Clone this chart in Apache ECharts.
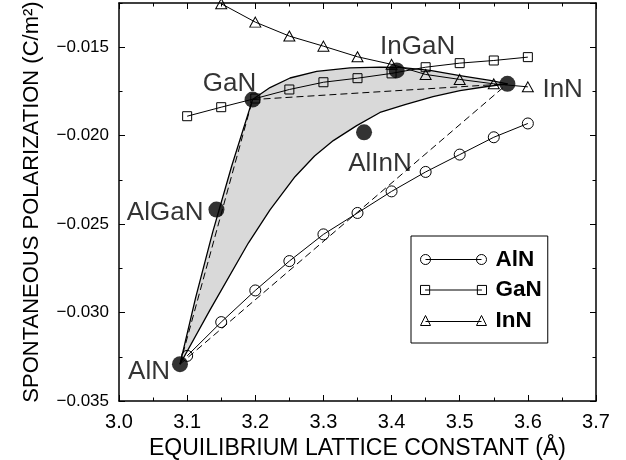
<!DOCTYPE html>
<html>
<head>
<meta charset="utf-8">
<script src="https://cdn.jsdelivr.net/npm/echarts@6/dist/echarts.min.js"></script>
<style>html,body{margin:0;padding:0;background:#fff}#c{width:626px;height:460px}</style>
</head>
<body>
<div id="c"></div>
<script>
// ---- data ----
const latticeGrid = [3.10, 3.15, 3.20, 3.25, 3.30, 3.35, 3.40, 3.45, 3.50, 3.55, 3.60];
const pspAlN = [-0.03245, -0.03054, -0.02875, -0.02709, -0.02558, -0.02437, -0.02315, -0.02205, -0.02107, -0.02009, -0.01931];
const pspGaN = [-0.0189, -0.01839, -0.0179, -0.01739, -0.01698, -0.01675, -0.01648, -0.01613, -0.0159, -0.01575, -0.01556];
const pspInN = [null, -0.01254, -0.01358, -0.01437, -0.01494, -0.01554, -0.01597, -0.01654, -0.01682, -0.01707, -0.01724];

const dotNames = ['AlN', 'AlGaN', 'GaN', 'InGaN', 'InN', 'AlInN'];
const dotX = [3.0895, 3.143, 3.196, 3.4075, 3.570, 3.3596];
const dotY = [-0.03292, -0.02418, -0.01796, -0.01631, -0.01707, -0.01981];

// bowed alloy curves
const algaX = [3.0895, 3.1123, 3.1376, 3.1655, 3.196];
const algaY = [-0.03292, -0.02918, -0.02544, -0.0217, -0.01796];
const ingaX = [3.196, 3.2216, 3.2510, 3.2901, 3.3390, 3.3830, 3.4124, 3.4564, 3.5004, 3.5445, 3.570];
const ingaY = [-0.01796, -0.01728, -0.01674, -0.01637, -0.01617, -0.01612, -0.01614, -0.01631, -0.01660, -0.01688, -0.01707];
const alinX = [3.0895, 3.1336, 3.1898, 3.2216, 3.2583, 3.2870, 3.3145, 3.3488, 3.3830, 3.4197, 3.4608, 3.5004, 3.5401, 3.570];
const alinY = [-0.03292, -0.02985, -0.02607, -0.02419, -0.02232, -0.02115, -0.02028, -0.01943, -0.01869, -0.01824, -0.01779, -0.01745, -0.01722, -0.01707];

const xTicks = { min: 3.0, max: 3.7, step: 0.1 };
const yTicks = { min: -0.035, max: -0.0125, step: 0.005 };

// ---- build ----
const FONT = '"Liberation Sans", Arial, Helvetica, sans-serif';
const zip = (xs, ys) => xs.map((x, i) => [x, ys[i]]);
const lineFrom = (a, b) => [[dotX[a], dotY[a]], [dotX[b], dotY[b]]];

const regionPts = [].concat(zip(algaX, algaY), zip(ingaX, ingaY).slice(1), zip(alinX, alinY).reverse().slice(1));

const chart = echarts.init(document.getElementById('c'), null, { renderer: 'canvas' });

const tickLabelX = v => v.toFixed(1);
const tickLabelY = v => '\u2212' + Math.abs(v).toFixed(3);

const baseX = {
  type: 'value', min: xTicks.min, max: xTicks.max, interval: xTicks.step,
  splitLine: { show: false },
  axisLine: { show: true, onZero: false, lineStyle: { color: '#000', width: 1.5 } },
  axisTick: { show: true, inside: true, length: 6, lineStyle: { color: '#000', width: 1 } },
  minorTick: { show: true, splitNumber: 2, length: 3.5, lineStyle: { color: '#000', width: 1 } }
};
const baseY = {
  type: 'value', min: yTicks.min, max: yTicks.max,
  splitLine: { show: false }
};

const labelPos = {
  AlN: { position: 'left', offset: [3, 8] },
  AlGaN: { position: 'left', offset: [0, 3] },
  GaN: { position: 'top', offset: [-23, 10] },
  InGaN: { position: 'top', offset: [21, 2] },
  InN: { position: 'right', offset: [22, 6] },
  AlInN: { position: 'bottom', offset: [16, 6] }
};

const circIcon = 'path://M0,5a5,5 0 1,0 10,0a5,5 0 1,0 -10,0M5,5L61,5M56,5a5,5 0 1,0 10,0a5,5 0 1,0 -10,0';
const sqIcon = 'path://M0.5,0.5L9.5,0.5L9.5,9.5L0.5,9.5ZM5,5L61,5M56.5,0.5L65.5,0.5L65.5,9.5L56.5,9.5Z';
const triIcon = 'path://M0,10L5,0L10,10ZM5,6L61,6M56,10L61,0L66,10Z';

const openSym = { color: 'rgba(0,0,0,0)', borderColor: '#000', borderWidth: 1 };
const thinLine = { color: '#000', width: 1 };

const option = {
  animation: false,
  backgroundColor: '#fff',
  textStyle: { fontFamily: FONT },
  grid: { left: 119, right: 30, top: 3, bottom: 59, containLabel: false, outerBoundsMode: 'none' },
  xAxis: [
    Object.assign({}, baseX, {
      position: 'bottom',
      axisLabel: { formatter: tickLabelX, fontSize: 20, color: '#000', margin: 11, fontFamily: FONT },
      name: 'EQUILIBRIUM LATTICE CONSTANT (\u00C5)', nameLocation: 'middle', nameGap: 33,
      nameTextStyle: { fontSize: 23, color: '#000', fontFamily: FONT }
    }),
    Object.assign({}, baseX, { position: 'top', axisLabel: { show: false } })
  ],
  yAxis: [
    Object.assign({}, baseY, {
      position: 'left', interval: yTicks.step,
      axisLine: { show: true, onZero: false, lineStyle: { color: '#000', width: 1.5 } },
      axisTick: { show: true, inside: true, length: 6, lineStyle: { color: '#000', width: 1 } },
      axisLabel: { formatter: tickLabelY, fontSize: 17, color: '#000', margin: 10, showMaxLabel: false, fontFamily: FONT },
      name: 'SPONTANEOUS POLARIZATION (C/m\u00B2)', nameLocation: 'middle', nameRotate: 90, nameGap: 76,
      nameTextStyle: { fontSize: 22, color: '#000', fontFamily: FONT }
    }),
    Object.assign({}, baseY, {
      position: 'left', interval: yTicks.step / 2,
      axisLine: { show: false }, axisLabel: { show: false },
      axisTick: { show: true, inside: true, length: 3.5, lineStyle: { color: '#000', width: 1 } }
    }),
    Object.assign({}, baseY, {
      position: 'right', interval: yTicks.step,
      axisLine: { show: true, onZero: false, lineStyle: { color: '#000', width: 1.5 } },
      axisLabel: { show: false },
      axisTick: { show: true, inside: true, length: 6, lineStyle: { color: '#000', width: 1 } }
    }),
    Object.assign({}, baseY, {
      position: 'right', interval: yTicks.step / 2,
      axisLine: { show: false }, axisLabel: { show: false },
      axisTick: { show: true, inside: true, length: 3.5, lineStyle: { color: '#000', width: 1 } }
    })
  ],
  legend: {
    data: [
      { name: 'AlN', icon: circIcon },
      { name: 'GaN', icon: sqIcon },
      { name: 'InN', icon: triIcon }
    ],
    orient: 'vertical', left: 411, top: 236,
    itemWidth: 66, itemHeight: 10, itemGap: 7.5,
    padding: [12, 6, 11, 9],
    borderColor: '#000', borderWidth: 1, backgroundColor: '#fff',
    selectedMode: false,
    itemStyle: { color: 'rgba(0,0,0,0)', borderColor: '#000', borderWidth: 1 },
    textStyle: { fontSize: 22.5, fontWeight: 'bold', color: '#000', fontFamily: FONT, padding: [0, 0, 0, 4], lineHeight: 22 }
  },
  series: [
    {
      name: 'region', type: 'custom', silent: true, z: 1,
      data: [regionPts[0]],
      encode: { x: 0, y: 1 },
      renderItem: function (params, api) {
        return {
          type: 'polygon',
          shape: { points: regionPts.map(p => api.coord(p)) },
          style: { fill: '#d9d9d9', stroke: 'none' }
        };
      }
    },
    { name: 'vAlGaN', type: 'line', z: 2, data: lineFrom(0, 2), symbol: 'none', lineStyle: { color: '#000', width: 1, type: [7, 4] } },
    { name: 'vInGaN', type: 'line', z: 2, data: lineFrom(2, 4), symbol: 'none', lineStyle: { color: '#000', width: 1, type: [7, 4] } },
    { name: 'vAlInN', type: 'line', z: 2, data: lineFrom(0, 4), symbol: 'none', lineStyle: { color: '#000', width: 1, type: [7, 4] } },
    { name: 'cAlGaN', type: 'line', z: 3, data: zip(algaX, algaY), symbol: 'none', smooth: false, lineStyle: { color: '#000', width: 1.3, join: 'round' } },
    { name: 'cInGaN', type: 'line', z: 3, data: zip(ingaX, ingaY), symbol: 'none', smooth: false, lineStyle: { color: '#000', width: 1.3, join: 'round' } },
    { name: 'cAlInN', type: 'line', z: 3, data: zip(alinX, alinY), symbol: 'none', smooth: false, lineStyle: { color: '#000', width: 1.3, join: 'round' } },
    { name: 'AlN', type: 'line', z: 4, data: zip(latticeGrid, pspAlN), symbol: 'circle', symbolSize: 11, itemStyle: openSym, lineStyle: thinLine },
    { name: 'GaN', type: 'line', z: 4, data: zip(latticeGrid, pspGaN), symbol: 'rect', symbolSize: 9, itemStyle: openSym, lineStyle: thinLine },
    { name: 'InN', type: 'line', z: 4, data: zip(latticeGrid, pspInN).filter(p => p[1] !== null), symbol: 'triangle', symbolSize: [11, 10], itemStyle: openSym, lineStyle: thinLine },
    {
      name: 'compounds', type: 'scatter', z: 5, symbolSize: 16,
      itemStyle: { color: '#000' },
      data: dotNames.map((n, i) => ({
        name: n, value: [dotX[i], dotY[i]],
        label: Object.assign({ show: true, formatter: '{b}', fontSize: 26, color: '#000', fontFamily: FONT }, labelPos[n])
      }))
    }
  ]
};
chart.setOption(option);
</script>
</body>
</html>
